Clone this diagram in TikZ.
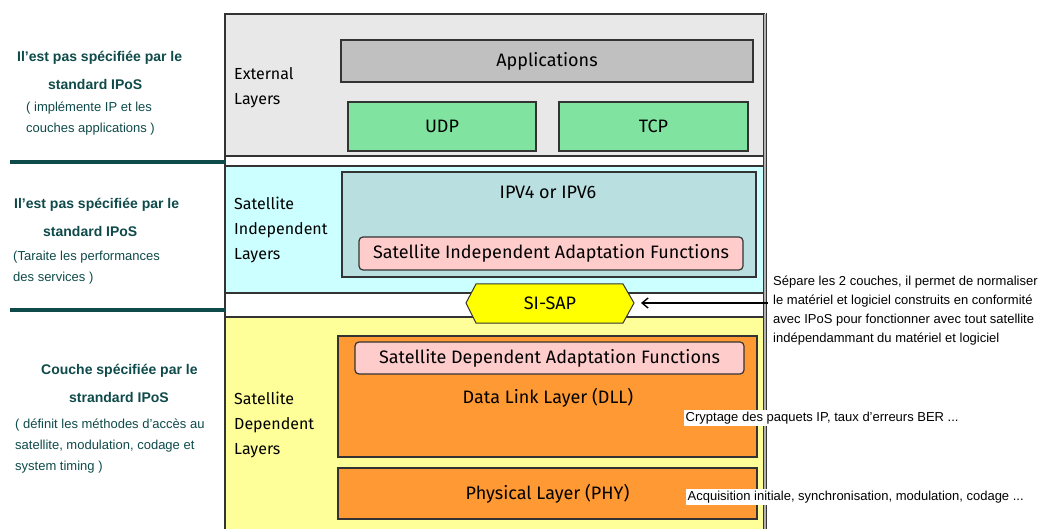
\documentclass[tikz,border=0pt]{standalone}
\usepackage{fontspec}
\setmainfont{Liberation Sans}
\newfontfamily\comic{Fira Sans}
\usetikzlibrary{arrows.meta}
\definecolor{tealdark}{HTML}{0F4A4A}
\definecolor{extgray}{HTML}{E8E8E8}
\definecolor{appgray}{HTML}{C0C0C0}
\definecolor{udpgreen}{HTML}{80E4A0}
\definecolor{sicyan}{HTML}{CCFFFF}
\definecolor{ipvblue}{HTML}{B9DFE0}
\definecolor{pinkbox}{HTML}{FFCCCC}
\definecolor{sdyellow}{HTML}{FFFF99}
\definecolor{orangebox}{HTML}{FF9933}
\definecolor{hexyellow}{HTML}{FFFF00}
\definecolor{bordergray}{HTML}{333333}
\tikzset{
  layerbox/.style={draw=bordergray, line width=1.2pt, inner sep=0pt, outer sep=0pt, anchor=center},
  lbl/.style={font=\comic\fontsize{18}{22}\selectfont, text=black, inner sep=0pt},
  laylbl/.style={font=\comic\fontsize{16}{25}\selectfont, text=black, inner sep=0pt, anchor=west, align=left},
  notebold/.style={font=\bfseries\fontsize{14}{16}\selectfont, text=tealdark, inner sep=0pt, anchor=west},
  notereg/.style={font=\fontsize{13}{15}\selectfont, text=tealdark, inner sep=0pt, anchor=west},
  noteright/.style={font=\fontsize{13}{15}\selectfont, text=black, inner sep=0pt, anchor=west},
  notewhite/.style={font=\fontsize{13}{15}\selectfont, text=black, fill=white, inner sep=1.5pt, anchor=west},
  tealline/.style={draw=tealdark, line width=3.5pt},
  arrowline/.style={draw=black, line width=1.4pt, -{Straight Barb[length=6pt,width=10pt,line width=1.4pt]}}
}
\begin{document}
\begin{tikzpicture}[x=1pt,y=-1pt]
\useasboundingbox (0,0) rectangle (1041,529);
\fill[white] (0,0) rectangle (1041,529);
% layer bands
\node[layerbox, fill=extgray, minimum width=539pt, minimum height=142pt] (ext) at (494.5,85) {};
\node[layerbox, fill=sicyan, minimum width=539pt, minimum height=127pt] (siband) at (494.5,229.5) {};
\node[layerbox, fill=sdyellow, minimum width=539pt, minimum height=216pt] (sdband) at (494.5,425) {};
% outer borders
\draw[bordergray, line width=1.2pt] (225,14) -- (225,529);
\draw[gray!60, line width=3pt] (764.5,14) -- (764.5,529);
\draw[bordergray, line width=1pt] (763,14) -- (763,529);
\draw[bordergray, line width=1pt] (766,13) -- (766,529);
% external layer boxes
\node[layerbox, fill=appgray, minimum width=412pt, minimum height=42pt, lbl] (app) at (547,61) {Applications};
\node[layerbox, fill=udpgreen, minimum width=188pt, minimum height=49pt, lbl] (udp) at (442,126.5) {UDP};
\node[layerbox, fill=udpgreen, minimum width=189pt, minimum height=49pt, lbl] (tcp) at (653.5,126.5) {TCP};
% satellite independent
\node[layerbox, fill=ipvblue, minimum width=414pt, minimum height=105pt] (ipv) at (549,224.5) {};
\node[lbl] (ipvtxt) at (548,192) {IPV4 or IPV6};
\node[layerbox, fill=pinkbox, rounded corners=4pt, minimum width=384pt, minimum height=33pt, lbl] (siaf) at (551,253.5) {Satellite Independent Adaptation Functions};
% satellite dependent
\node[layerbox, fill=orangebox, minimum width=419pt, minimum height=121pt] (dll) at (547.5,396.5) {};
\node[layerbox, fill=pinkbox, rounded corners=4pt, minimum width=389pt, minimum height=32pt, lbl] (sdaf) at (549.5,358) {Satellite Dependent Adaptation Functions};
\node[lbl] (dlltxt) at (548,398) {Data Link Layer (DLL)};
\node[layerbox, fill=orangebox, minimum width=419pt, minimum height=51pt, lbl] (phy) at (547.5,493.5) {Physical Layer (PHY)};
% SI-SAP hexagon
\draw[draw=bordergray, line width=1pt, fill=hexyellow] (466,303) -- (476,284) -- (623,284) -- (634,303) -- (623,323) -- (476,323) -- cycle;
\node[lbl] (sisap) at (550,303.5) {SI-SAP};
\coordinate (hexright) at (641,303);
% layer labels
\node[laylbl] (extlbl) at (234,87.5) {External\\Layers};
\node[laylbl] (silbl) at (234,230) {Satellite\\Independent\\Layers};
\node[laylbl] (sdlbl) at (234,425) {Satellite\\Dependent\\Layers};
% left teal separators
\draw[tealline] (10,162) -- (226,162);
\draw[tealline] (10,310) -- (226,310);
% left notes
\node[notebold] (n1a) at (17,58) {Il'est pas spécifiée par le};
\node[notebold] (n1b) at (48,84) {standard IPoS};
\node[notereg] (n1c) at (26,108) {( implémente IP et les};
\node[notereg] (n1d) at (26,129) {couches applications )};
\node[notebold] (n2a) at (14,205) {Il'est pas spécifiée par le};
\node[notebold] (n2b) at (43,231) {standard IPoS};
\node[notereg] (n2c) at (13,257) {(Taraite les performances};
\node[notereg] (n2d) at (13,278) {des services )};
\node[notebold] (n3a) at (41,371) {Couche spécifiée par le};
\node[notebold] (n3b) at (69,397) {strandard IPoS};
\node[notereg] (n3c) at (15,425) {( définit les méthodes d'accès au};
\node[notereg] (n3d) at (15,446) {satellite, modulation, codage et};
\node[notereg] (n3e) at (15,467) {system timing )};
% right notes
\node[noteright] (r1) at (773,282) {Sépare les 2 couches, il permet de normaliser};
\node[noteright] (r2) at (773,301) {le matériel et logiciel construits en conformité};
\node[noteright] (r3) at (773,320) {avec IPoS pour fonctionner avec tout satellite};
\node[noteright] (r4) at (773,339) {indépendammant du matériel et logiciel};
\coordinate (arrstart) at (768,303);
\draw[arrowline] (arrstart) -- (hexright);
\node[notewhite] (crypt) at (684,418) {Cryptage des paquets IP, taux d'erreurs BER ...};
\node[notewhite] (acq) at (686,497) {Acquisition initiale, synchronisation, modulation, codage ...};
\end{tikzpicture}
\end{document}
